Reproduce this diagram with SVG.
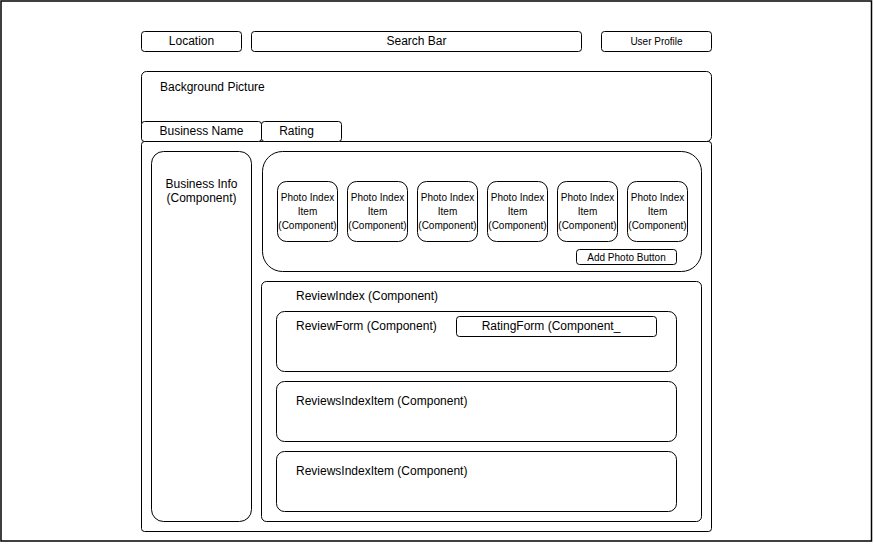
<svg xmlns="http://www.w3.org/2000/svg" width="874" height="544" viewBox="0 0 874 544">
<style>
.b{fill:#fff;stroke:#000;stroke-width:1}
.t{font-family:"Liberation Sans",Arial,sans-serif;font-size:12px;fill:#000}
.s{font-family:"Liberation Sans",Arial,sans-serif;font-size:10px;fill:#000}
.m{text-anchor:middle}
</style>
<rect x="0" y="0" width="874" height="544" fill="#fff"/>
<rect x="1" y="1" width="870.5" height="540" fill="none" stroke="#000" stroke-width="1.5"/>
<g id="location"><rect class="b" x="141.5" y="31.5" width="100" height="20" rx="3"/><text class="t m" x="191.5" y="45">Location</text></g>
<g id="search"><rect class="b" x="251.5" y="31.5" width="330" height="20" rx="3"/><text class="t m" x="416.5" y="45">Search Bar</text></g>
<g id="profile"><rect class="b" x="601.5" y="31.5" width="110" height="20" rx="3"/><text class="s m" x="656.5" y="45">User Profile</text></g>
<g id="main"><rect class="b" x="141.5" y="141.5" width="570" height="390" rx="3"/></g>
<g id="background"><rect class="b" x="141.5" y="71.5" width="570" height="70" rx="5"/><text class="t" x="160" y="91">Background Picture</text></g>
<g id="bizname"><rect class="b" x="141.5" y="121.5" width="120" height="20" rx="3"/><text class="t m" x="201.5" y="135">Business Name</text></g>
<g id="rating"><rect class="b" x="261.5" y="121.5" width="80" height="20" rx="3"/><text class="t m" x="296.5" y="135">Rating</text></g>
<g id="bizinfo"><rect class="b" x="151.5" y="151.5" width="100" height="370" rx="12"/><text class="t m" x="201.5" y="188">Business Info</text><text class="t m" x="201.5" y="202">(Component)</text></g>
<g id="photos"><rect class="b" x="262.5" y="151.5" width="439" height="120" rx="20"/></g>
<g id="photo1"><rect class="b" x="277.5" y="181.5" width="60" height="60" rx="9"/><text class="s m" x="307.5" y="201">Photo Index</text><text class="s m" x="307.5" y="215">Item</text><text class="s m" x="307.5" y="229">(Component)</text></g>
<g id="photo2"><rect class="b" x="347.5" y="181.5" width="60" height="60" rx="9"/><text class="s m" x="377.5" y="201">Photo Index</text><text class="s m" x="377.5" y="215">Item</text><text class="s m" x="377.5" y="229">(Component)</text></g>
<g id="photo3"><rect class="b" x="417.5" y="181.5" width="60" height="60" rx="9"/><text class="s m" x="447.5" y="201">Photo Index</text><text class="s m" x="447.5" y="215">Item</text><text class="s m" x="447.5" y="229">(Component)</text></g>
<g id="photo4"><rect class="b" x="487.5" y="181.5" width="60" height="60" rx="9"/><text class="s m" x="517.5" y="201">Photo Index</text><text class="s m" x="517.5" y="215">Item</text><text class="s m" x="517.5" y="229">(Component)</text></g>
<g id="photo5"><rect class="b" x="557.5" y="181.5" width="60" height="60" rx="9"/><text class="s m" x="587.5" y="201">Photo Index</text><text class="s m" x="587.5" y="215">Item</text><text class="s m" x="587.5" y="229">(Component)</text></g>
<g id="photo6"><rect class="b" x="627.5" y="181.5" width="60" height="60" rx="9"/><text class="s m" x="657.5" y="201">Photo Index</text><text class="s m" x="657.5" y="215">Item</text><text class="s m" x="657.5" y="229">(Component)</text></g>
<g id="addphoto"><rect class="b" x="576.5" y="249.5" width="100" height="15" rx="3"/><text class="s m" x="626.5" y="261">Add Photo Button</text></g>
<g id="reviewindex"><rect class="b" x="261.5" y="281.5" width="440" height="240" rx="5"/><text class="t" x="296" y="300">ReviewIndex (Component)</text></g>
<g id="reviewform"><rect class="b" x="276.5" y="311.5" width="400" height="60" rx="8"/><text class="t" x="296" y="330">ReviewForm (Component)</text></g>
<g id="ratingform"><rect class="b" x="456.5" y="316.5" width="200" height="20" rx="3"/><text class="t m" x="551" y="330">RatingForm (Component_</text></g>
<g id="item1"><rect class="b" x="276.5" y="381.5" width="400" height="60" rx="8"/><text class="t" x="296" y="405">ReviewsIndexItem (Component)</text></g>
<g id="item2"><rect class="b" x="276.5" y="451.5" width="400" height="60" rx="8"/><text class="t" x="296" y="475">ReviewsIndexItem (Component)</text></g>
<g id="connectors"></g>
</svg>
